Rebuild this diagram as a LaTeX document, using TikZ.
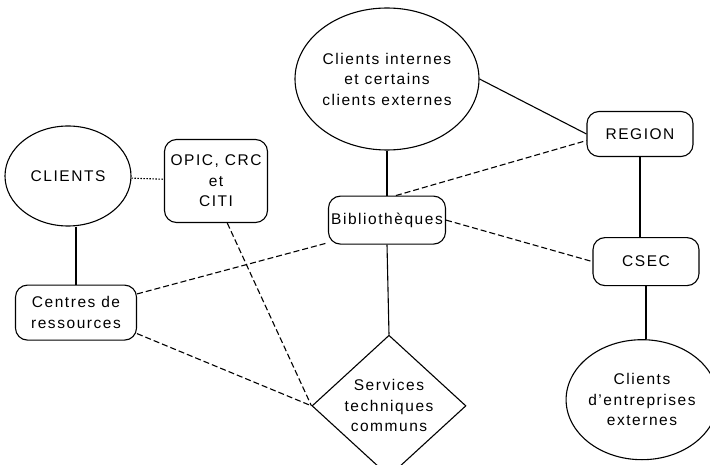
\documentclass[tikz,border=0pt]{standalone}
\usepackage{fontspec}
\setmainfont{Liberation Sans}[LetterSpace=10]
\usepackage{tikz}
\usetikzlibrary{positioning}
\usetikzlibrary{shapes.geometric}

\begin{document}
\begin{tikzpicture}[
            x = 1pt, y = 1pt, % pixel-like units
            line width = 1.1pt, % line style
            font = \fontsize{15.5}{20.5}\selectfont
            ]

        \tikzstyle{unit}=[
            draw,
            rounded corners = 12pt,
            align = center,
            inner sep = 0pt
        ]
        \tikzstyle{client}=[
            draw,
            ellipse,
            align = center,
            inner sep = 0pt
        ]
        \tikzstyle{service}=[
            draw,
            diamond,
            align = center,
            inner sep = 0pt
        ]
        \tikzstyle{dashlink}=[dash pattern = on 6pt off 3pt]
        \tikzstyle{dotlink}=[dash pattern = on 1.5pt off 1.5pt]

    \useasboundingbox (0,0) rectangle (710,464);

	% left side
	\node[client, minimum width = 126pt, minimum height = 100pt] (CL) at (68,288) {CLIENTS};
	\node[unit, minimum width = 103pt, minimum height = 83pt] (OPIC) at (216,283) {OPIC, CRC\\et\\CITI};
	\node[unit, minimum width = 121pt, minimum height = 55pt] (CR) [below = 58pt of CL, xshift = 8pt] {Centres de\\ressources};

	% middle
	\node[client, minimum width = 184pt, minimum height = 142pt] (CI) at (387,385) {Clients internes\\et certains\\clients externes};
	\node[unit, minimum width = 117pt, minimum height = 48pt] (BIB) [below = 45pt of CI] {Bibliothèques};
	\node[service, minimum width = 154pt, minimum height = 132pt] (STC) [below = 90pt of BIB, xshift = 2pt] {Services\\techniques\\communs};

	% right side
	\node[unit, minimum width = 106pt, minimum height = 45pt] (REG) at (640,330) {REGION};
	\node[unit, minimum width = 106pt, minimum height = 48pt] (CSEC) [below = 80pt of REG, xshift = 6pt] {CSEC};
	\node[client, minimum width = 130pt, minimum height = 120pt] (CE) [below = 53pt of CSEC, xshift = -4pt] {Clients\\d\symbol{39}entreprises\\externes};

	% solid links
	\draw (CR.north) -- (CL.south -| CR.north);
	\draw (CI.south) -- (BIB.north);
	\draw (BIB.south) -- (STC.north);
	\draw (CI.east) -- (REG.west);
	\draw (REG.south) -- (REG.south |- CSEC.north);
	\draw (CSEC.south) -- (CSEC.south |- CE.north);

	% dashed links
	\draw[dotlink] (CL) -- (OPIC);
	\draw[dashlink] (BIB.70) -- (REG.187);
	\draw[dashlink] (BIB.east) -- (CSEC.west);
	\draw[dashlink] (CR.17) -- (BIB.201);
	\draw[dashlink] (CR.-19) -- (STC.west);
	\draw[dashlink] (OPIC.-75) -- (STC.west);

\end{tikzpicture}
\end{document}
